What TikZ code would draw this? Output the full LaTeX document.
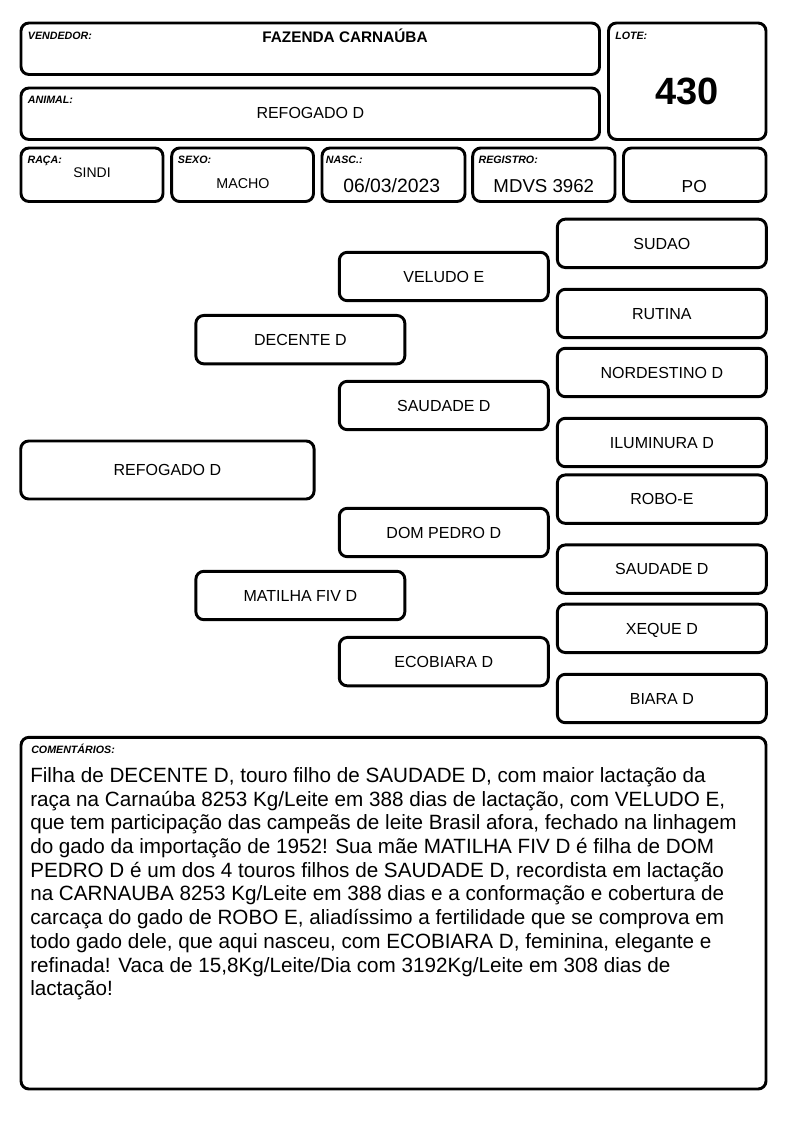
\documentclass[tikz,border=0pt]{standalone}
\usepackage{fontspec}
\setmainfont{Liberation Sans}
\begin{document}
\begin{tikzpicture}[x=0.75pt,y=-0.75pt]
\tikzset{
 frame/.style={draw=black, line width=2.2pt, rounded corners=6pt},
 pbox/.style={frame, inner sep=0pt, outer sep=0pt, minimum width=156.75pt, minimum height=36.3pt,
   font=\fontsize{12}{14}\selectfont, text height=8.6pt, text depth=0pt},
 lbl/.style={anchor=base west, inner sep=0pt, font=\fontsize{8}{9}\selectfont\bfseries\itshape},
 val/.style={anchor=base, inner sep=0pt},
 cline/.style={anchor=base west, inner sep=0pt, font=\fontsize{15.5}{18}\selectfont}
}
\useasboundingbox[fill=white] (0,0) rectangle (794,1123);

% header frames
\draw[frame] (21,23) rectangle (599.5,74.5);
\draw[frame] (21,88) rectangle (599.5,139.5);
\draw[frame] (608.5,23) rectangle (766,139.5);
\draw[frame] (21,148) rectangle (163,201.5);
\draw[frame] (171.7,148) rectangle (313.5,201.5);
\draw[frame] (322,148) rectangle (465,201.5);
\draw[frame] (472.7,148) rectangle (615,201.5);
\draw[frame] (623.5,148) rectangle (766,201.5);

% header labels
\node[lbl] (lvend) at (27.7,39.5) {VENDEDOR:};
\node[lbl] (lanim) at (27.7,103.1) {ANIMAL:};
\node[lbl] (llote) at (615,39.5) {LOTE:};
\node[lbl] (lraca) at (27.3,163.8) {RAÇA:};
\node[lbl] (lsexo) at (177.7,163.8) {SEXO:};
\node[lbl] (lnasc) at (325.7,163.8) {NASC.:};
\node[lbl] (lreg) at (478.3,163.8) {REGISTRO:};

% header values
\node[val, font=\fontsize{11.5}{13}\selectfont\bfseries] (vvend) at (345,42.2) {FAZENDA CARNAÚBA};
\node[val, font=\fontsize{12}{14}\selectfont] (vanim) at (310.3,119) {REFOGADO D};
\node[val, font=\fontsize{28.5}{32}\selectfont\bfseries] (vlote) at (687,104.6) {430};
\node[val, font=\fontsize{10.5}{12}\selectfont] (vraca) at (92,177.7) {SINDI};
\node[val, font=\fontsize{10.7}{12}\selectfont] (vsexo) at (243,189) {MACHO};
\node[val, font=\fontsize{14.5}{17}\selectfont] (vnasc) at (391.7,192.9) {06/03/2023};
\node[val, font=\fontsize{14}{16}\selectfont] (vreg) at (543.8,192.7) {MDVS 3962};
\node[val, font=\fontsize{13}{15}\selectfont] (vpo) at (694.2,192.9) {PO};

% pedigree
\node[pbox, minimum width=220pt, minimum height=43.5pt] (animal) at (167.4,470) {REFOGADO D};
\node[pbox] (sire) at (300.35,339.65) {DECENTE D};
\node[pbox] (dam) at (300.35,595.5) {MATILHA FIV D};
\node[pbox] (ss) at (443.8,276.5) {VELUDO E};
\node[pbox] (sd) at (443.8,405.5) {SAUDADE D};
\node[pbox] (ds) at (443.8,532.5) {DOM PEDRO D};
\node[pbox] (dd) at (443.8,661.65) {ECOBIARA D};
\node[pbox] (sss) at (661.85,243.35) {SUDAO};
\node[pbox] (ssd) at (661.85,313.5) {RUTINA};
\node[pbox] (sds) at (661.85,372.5) {NORDESTINO D};
\node[pbox] (sdd) at (661.85,442.5) {ILUMINURA D};
\node[pbox] (dss) at (661.85,499.15) {ROBO-E};
\node[pbox] (dsd) at (661.85,569.15) {SAUDADE D};
\node[pbox] (dds) at (661.85,628.35) {XEQUE D};
\node[pbox] (ddd) at (661.85,698.5) {BIARA D};

% comments
\draw[frame] (21,737.3) rectangle (766,1089);
\node[lbl] (lcom) at (31,753.8) {COMENTÁRIOS:};
\foreach \t [count=\i from 0] in {
 {Filha de DECENTE D, touro filho de SAUDADE D, com maior lactação da},
 {raça na Carnaúba 8253 Kg/Leite em 388 dias de lactação, com VELUDO E,},
 {que tem participação das campeãs de leite Brasil afora, fechado na linhagem},
 {do gado da importação de 1952! Sua mãe MATILHA FIV D é filha de DOM},
 {PEDRO D é um dos 4 touros filhos de SAUDADE D, recordista em lactação},
 {na CARNAUBA 8253 Kg/Leite em 388 dias e a conformação e cobertura de},
 {carcaça do gado de ROBO E, aliadíssimo a fertilidade que se comprova em},
 {todo gado dele, que aqui nasceu, com ECOBIARA D, feminina, elegante e},
 {refinada! Vaca de 15,8Kg/Leite/Dia com 3192Kg/Leite em 308 dias de},
 {lactação!}}
 \node[cline] (c\i) at (30,{782.4+23.7*\i}) {\t};
\end{tikzpicture}
\end{document}
